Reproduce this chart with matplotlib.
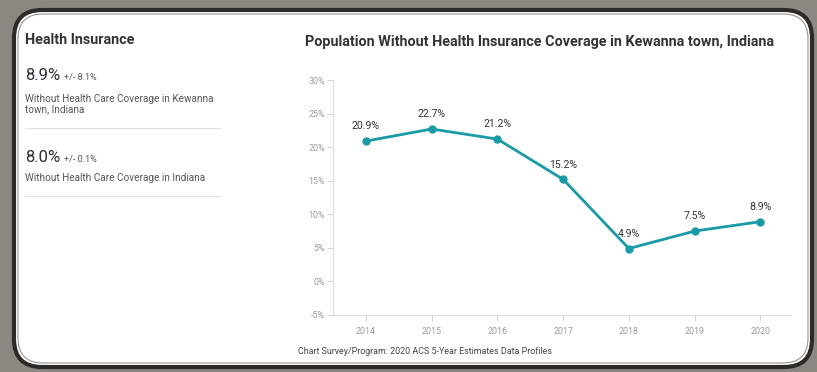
import matplotlib
matplotlib.use('Agg')
import matplotlib.pyplot as plt
from matplotlib.patches import FancyBboxPatch
from matplotlib.ticker import FuncFormatter

# data
years = [2014, 2015, 2016, 2017, 2018, 2019, 2020]
uninsured_pct = [20.9, 22.7, 21.2, 15.2, 4.9, 7.5, 8.9]
y_ticks = [-5, 0, 5, 10, 15, 20, 25, 30]

town_value, town_moe = '8.9%', '+/- 8.1%'
state_value, state_moe = '8.0%', '+/- 0.1%'

LINE_COLOR = '#1a9aa6'
TICK_COLOR = '#9a9a9a'
TEXT_COLOR = '#333333'

plt.rcParams['font.family'] = ['Roboto', 'DejaVu Sans']

W, H = 817, 372
fig = plt.figure(figsize=(W / 100, H / 100), dpi=100)
fig.patch.set_facecolor('#8c8781')

# card frame (rounded, dark double border)
bg = fig.add_axes([0, 0, 1, 1], zorder=-1)
bg.set_xlim(0, W); bg.set_ylim(H, 0); bg.axis('off')
bg.add_patch(FancyBboxPatch((14, 10), 798, 357, boxstyle='round,pad=0,rounding_size=28',
                            facecolor='white', edgecolor='#2e2a28', linewidth=3.0))
bg.add_patch(FancyBboxPatch((18, 14), 790, 349, boxstyle='round,pad=0,rounding_size=25',
                            facecolor='white', edgecolor='#9a9490', linewidth=0.8))

# left info panel
bg.text(25, 40, 'Health Insurance', fontsize=10.4, fontweight='bold', color=TEXT_COLOR, va='center')
bg.text(25, 75, town_value, fontsize=12, color='#2a2f3a', va='center')
bg.text(64, 77, town_moe, fontsize=6.5, color='#555555', va='center')
bg.text(25, 104, 'Without Health Care Coverage in Kewanna\ntown, Indiana', fontsize=7.2,
        color='#555555', va='center', linespacing=1.1)
bg.plot([25, 220], [128, 128], color='#e2e2e2', lw=0.8)
bg.text(25, 157, state_value, fontsize=12, color='#2a2f3a', va='center')
bg.text(64, 159, state_moe, fontsize=6.5, color='#555555', va='center')
bg.text(25, 178, 'Without Health Care Coverage in Indiana', fontsize=7.2, color='#555555', va='center')
bg.plot([25, 220], [196, 196], color='#e2e2e2', lw=0.8)

bg.text(540, 42, 'Population Without Health Insurance Coverage in Kewanna town, Indiana',
        fontsize=10.4, fontweight='bold', color=TEXT_COLOR, ha='center', va='center')
bg.text(298, 352, 'Chart Survey/Program: 2020 ACS 5-Year Estimates Data Profiles',
        fontsize=6.4, color='#444444', va='center')

# line chart
ax = fig.add_axes([333 / W, 1 - 315 / H, (790 - 333) / W, (315 - 80) / H])
ax.set_facecolor('none')
ax.plot(years, uninsured_pct, color=LINE_COLOR, lw=2, marker='o', markersize=5)
for x, v in zip(years, uninsured_pct):
    ax.annotate(f'{v}%', (x, v), xytext=(0, 7), textcoords='offset points',
                ha='center', va='bottom', fontsize=7.6, color=TEXT_COLOR)

ax.set_xlim(2013.5, 2020.45)
ax.set_ylim(-5, 30)
ax.set_xticks(years)
ax.set_yticks(y_ticks)
ax.yaxis.set_major_formatter(FuncFormatter(lambda v, _: f'{v:.0f}%'))
for s in ['top', 'right']:
    ax.spines[s].set_visible(False)
for s in ['left', 'bottom']:
    ax.spines[s].set_color('#dddddd')
    ax.spines[s].set_linewidth(0.8)
ax.tick_params(axis='both', colors='#cccccc', labelcolor=TICK_COLOR, labelsize=6.4,
               length=4, width=0.6)
ax.tick_params(axis='x', pad=5)
ax.tick_params(axis='y', pad=2)

fig.savefig('out.png', dpi=100, facecolor=fig.get_facecolor())
